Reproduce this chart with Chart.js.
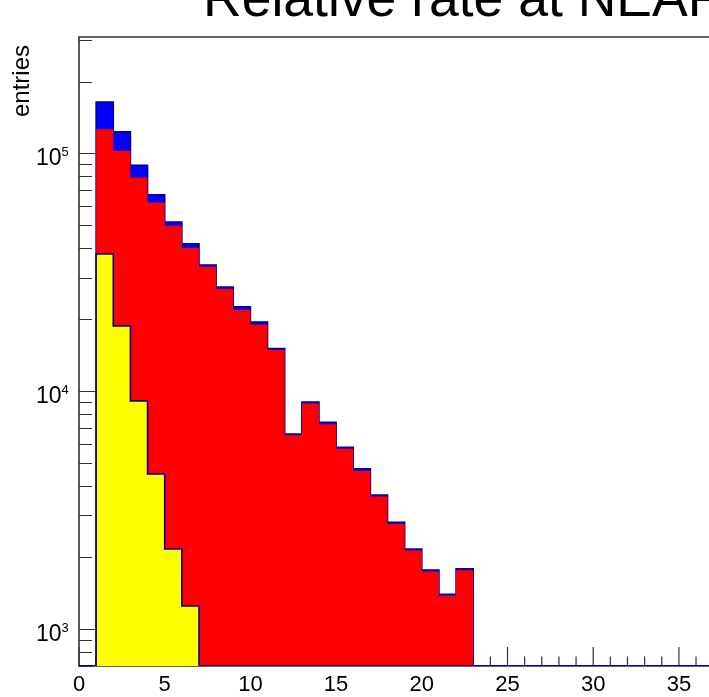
<!DOCTYPE html>
<html>
<head>
<meta charset="utf-8">
<script src="https://cdn.jsdelivr.net/npm/chart.js@4.4.0/dist/chart.umd.min.js"></script>
<style>
  html, body { margin: 0; padding: 0; background: #fff; overflow: hidden; }
  #wrap { position: relative; width: 709px; height: 697px; overflow: hidden; background: #fff; }
  #wrap canvas { position: absolute; left: 0; top: 0; }
</style>
</head>
<body>
<div id="wrap"><canvas id="c" width="800" height="697"></canvas></div>
<script>
// Histogram contents: lower bin edges (bin width 1) and entries per bin
const binLow = [1, 2, 3, 4, 5, 6, 7, 8, 9, 10, 11, 12, 13, 14, 15, 16, 17, 18, 19, 20, 21, 22];
const totalCounts = [164000, 123000, 89000, 66800, 51400, 41600, 33900, 27400, 22600, 19500, 15100,
                     6600, 9000, 7400, 5800, 4720, 3660, 2810, 2170, 1770, 1400, 1790];
const selectedCounts = [126000, 102500, 79000, 62000, 49600, 40000, 33300, 26900, 22000, 19000, 14900,
                        6520, 8880, 7250, 5720, 4620, 3610, 2770, 2140, 1745, 1380, 1765];
const coreBinLow = [1, 2, 3, 4, 5, 6];
const coreCounts = [37700, 18800, 9100, 4480, 2170, 1250];

// Axis ranges and labelled ticks
const xMin = 0, xMax = 40, binWidth = 1;
const yMin = 699, yMax = 308000;
const xTickLabels = [0, 5, 10, 15, 20, 25, 30, 35, 40];
const yTickExponents = [3, 4, 5];
const titleText = 'Relative rate at NEAR';
const yAxisTitle = 'entries';

const FONT = '"Liberation Sans", Arial, Helvetica, sans-serif';
const OUTLINE = '#000099';

// Step outline of a histogram, closed down to the bottom of the frame
function histPoints(lows, counts) {
  const pts = [{ x: xMin, y: yMin }, { x: lows[0], y: yMin }];
  counts.forEach((c, i) => pts.push({ x: lows[i], y: c }));
  pts.push({ x: lows[lows.length - 1] + binWidth, y: yMin });
  pts.push({ x: xMax, y: yMin });
  return pts;
}

// Frame, inner tick marks and axis labels in the ROOT style
const rootAxes = {
  id: 'rootAxes',
  beforeDatasetsDraw(chart) {
    const { ctx, chartArea: a, scales: { x, y } } = chart;
    ctx.save();
    ctx.strokeStyle = '#333';
    ctx.lineWidth = 1.2;
    ctx.beginPath();
    for (let v = xMin; v <= xMax; v += 1) {
      const px = x.getPixelForValue(v);
      const len = v % 5 === 0 ? 19 : 9.5;
      ctx.moveTo(px, a.bottom);
      ctx.lineTo(px, a.bottom - len);
    }
    for (let e = 2; e <= 5; e++) {
      for (let m = 1; m <= 9; m++) {
        const v = m * Math.pow(10, e);
        if (v < yMin || v > yMax) continue;
        const py = Math.round(y.getPixelForValue(v)) + 0.5;
        ctx.moveTo(a.left, py);
        ctx.lineTo(a.left + (m === 1 ? 16.5 : 13), py);
      }
    }
    ctx.stroke();

    ctx.lineWidth = 1.6;
    ctx.beginPath();
    ctx.moveTo(a.right, a.top);
    ctx.lineTo(a.left, a.top);
    ctx.lineTo(a.left, a.bottom);
    ctx.lineTo(a.right, a.bottom);
    ctx.stroke();

    ctx.fillStyle = '#000';
    // x labels
    ctx.font = '22px ' + FONT;
    ctx.textAlign = 'center';
    ctx.textBaseline = 'alphabetic';
    xTickLabels.forEach(v => ctx.fillText(String(v), x.getPixelForValue(v), 691));
    // y labels: 10 with raised exponent
    yTickExponents.forEach(e => {
      const py = y.getPixelForValue(Math.pow(10, e));
      ctx.font = '23px ' + FONT;
      ctx.textAlign = 'right';
      ctx.fillText('10', 61.5, py + 11.5);
      ctx.font = '13px ' + FONT;
      ctx.textAlign = 'left';
      ctx.fillText(String(e), 61.5, py + 2.7);
    });
    // y axis title
    ctx.save();
    ctx.translate(28.5, 45);
    ctx.rotate(-Math.PI / 2);
    ctx.font = '24px ' + FONT;
    ctx.textAlign = 'right';
    ctx.fillText(yAxisTitle, 0, 0);
    ctx.restore();
    // title
    ctx.font = '53.5px ' + FONT;
    ctx.textAlign = 'left';
    ctx.fillText(titleText, 203, 16);
    ctx.restore();
  }
};

new Chart(document.getElementById('c'), {
  type: 'line',
  data: {
    datasets: [
      {
        data: histPoints(coreBinLow, coreCounts),
        backgroundColor: '#ffff00', borderColor: OUTLINE, borderWidth: 1.6,
        fill: 'start', stepped: 'before', pointRadius: 0, order: 1
      },
      {
        data: histPoints(binLow, selectedCounts),
        backgroundColor: '#ff0000', borderColor: 'rgba(0,0,0,0)', borderWidth: 1,
        fill: 'start', stepped: 'before', pointRadius: 0, order: 2
      },
      {
        data: histPoints(binLow, totalCounts),
        backgroundColor: '#0000ff', borderColor: OUTLINE, borderWidth: 1.6,
        fill: 'start', stepped: 'before', pointRadius: 0, order: 3
      }
    ]
  },
  options: {
    responsive: false,
    animation: false,
    events: [],
    layout: { padding: { top: 37, left: 0, right: 800 - (79 + 40 * 17.14), bottom: 0 } },
    plugins: { legend: { display: false }, title: { display: false }, tooltip: { enabled: false } },
    elements: { line: { tension: 0, borderJoinStyle: 'miter', borderCapStyle: 'butt' } },
    scales: {
      x: {
        type: 'linear', min: xMin, max: xMax,
        grid: { display: false }, border: { display: false }, ticks: { display: false },
        afterFit(s) { s.height = 31; }
      },
      y: {
        type: 'logarithmic', min: yMin, max: yMax,
        grid: { display: false }, border: { display: false }, ticks: { display: false },
        afterFit(s) { s.width = 79; }
      }
    }
  },
  plugins: [rootAxes]
});
</script>
</body>
</html>
